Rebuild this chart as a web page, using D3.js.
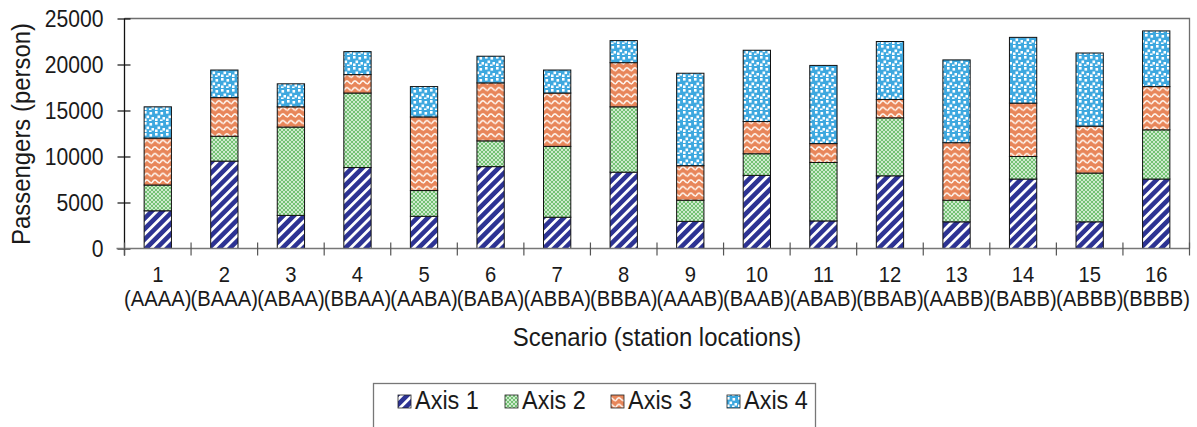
<!DOCTYPE html>
<html>
<head>
<meta charset="utf-8">
<script src="https://cdn.jsdelivr.net/npm/d3@7"></script>
<style>
  html, body { margin: 0; padding: 0; background: #fff; }
  svg { display: block; }
  text { font-family: "Liberation Sans", Arial, sans-serif; fill: #1a1a1a; }
</style>
</head>
<body>
<svg id="chart" width="1197" height="427"></svg>
<script>
// Scenario numbers and their station-location codes
const categories = ["1","2","3","4","5","6","7","8","9","10","11","12","13","14","15","16"];
const scenarioCodes = ["(AAAA)","(BAAA)","(ABAA)","(BBAA)","(AABA)","(BABA)","(ABBA)","(BBBA)",
                       "(AAAB)","(BAAB)","(ABAB)","(BBAB)","(AABB)","(BABB)","(ABBB)","(BBBB)"];
const seriesNames = ["Axis 1", "Axis 2", "Axis 3", "Axis 4"];

// Passengers (person) per axis for each scenario
const axis1 = [4100, 9500, 3600, 8800, 3500, 8900, 3400, 8300, 2950, 7950, 3000, 7900, 2900, 7550, 2900, 7550];
const axis2 = [2800, 2700, 9600, 8100, 2800, 2800, 7700, 7100, 2300, 2350, 6350, 6300, 2350, 2450, 5300, 5350];
const axis3 = [5100, 4200, 2200, 2000, 8000, 6300, 5800, 4800, 3750, 3500, 2050, 2000, 6250, 5800, 5100, 4700];
const axis4 = [3400, 3000, 2500, 2500, 3300, 2900, 2500, 2400, 10050, 7750, 8500, 6300, 9000, 7150, 7950, 6050];

const yTicks = [0, 5000, 10000, 15000, 20000, 25000];

const rows = categories.map((c, i) => ({
  cat: c, code: scenarioCodes[i],
  "Axis 1": axis1[i], "Axis 2": axis2[i], "Axis 3": axis3[i], "Axis 4": axis4[i]
}));

const svg = d3.select("#chart");
const plot = { left: 124.5, right: 1189.5, top: 18.5, bottom: 248.5 };
const SX = 0.92; // narrow text rendering

const x = d3.scaleBand().domain(categories)
  .range([plot.left, plot.right]).paddingInner(0.59).paddingOuter(0.295);
const y = d3.scaleLinear().domain([0, 25000]).range([plot.bottom, plot.top]);

// ---- fill patterns ----
const defs = svg.append("defs");

// Axis 1: navy with white "/" stripes
const p1 = defs.append("pattern").attr("id", "pat1").attr("patternUnits", "userSpaceOnUse")
  .attr("width", 7.4).attr("height", 7.4).attr("patternTransform", "rotate(45)");
p1.append("rect").attr("width", 7.4).attr("height", 7.4).attr("fill", "#2d3393");
p1.append("rect").attr("x", 0).attr("width", 2.8).attr("height", 7.4).attr("fill", "#ffffff");

// Axis 2: green with fine white dot lattice
const p2 = defs.append("pattern").attr("id", "pat2").attr("patternUnits", "userSpaceOnUse")
  .attr("width", 4).attr("height", 4);
p2.append("rect").attr("width", 4).attr("height", 4).attr("fill", "#74c274");
[[0,0],[4,0],[0,4],[4,4],[2,2]].forEach(([cx, cy]) =>
  p2.append("circle").attr("cx", cx).attr("cy", cy).attr("r", 1.05).attr("fill", "#e6f6e6"));

// Axis 3: orange with white waves
const p3 = defs.append("pattern").attr("id", "pat3").attr("patternUnits", "userSpaceOnUse")
  .attr("width", 8).attr("height", 6.6);
p3.append("rect").attr("width", 8).attr("height", 6.6).attr("fill", "#e8865a");
p3.append("path").attr("d", "M0,4.6 Q2,0.8 4,2.2 Q6,4.8 8,4.6")
  .attr("fill", "none").attr("stroke", "#fff6ef").attr("stroke-width", 1.6);

// Axis 4: sky blue with white confetti squares
const p4 = defs.append("pattern").attr("id", "pat4").attr("patternUnits", "userSpaceOnUse")
  .attr("width", 11).attr("height", 11);
p4.append("rect").attr("width", 11).attr("height", 11).attr("fill", "#3ea8df");
[[1,1],[6.5,2],[3.5,5.5],[8.5,7],[1,8.5],[6,9.5]].forEach(([sx, sy]) =>
  p4.append("rect").attr("x", sx).attr("y", sy).attr("width", 2.6).attr("height", 2.6).attr("fill", "#ffffff"));

const fills = { "Axis 1": "url(#pat1)", "Axis 2": "url(#pat2)", "Axis 3": "url(#pat3)", "Axis 4": "url(#pat4)" };

// helper for narrow text
function label(g, txt, tx, ty, size, anchor, rot) {
  return g.append("text")
    .attr("transform", `translate(${tx},${ty})` + (rot ? ` rotate(${rot})` : "") + ` scale(${SX},1)`)
    .attr("text-anchor", anchor).attr("font-size", size).text(txt);
}

// ---- plot frame (top & right) ----
svg.append("path")
  .attr("d", `M${plot.left},${plot.top}H${plot.right}V${plot.bottom}`)
  .attr("fill", "none").attr("stroke", "#6e6e6e").attr("stroke-width", 1.3);

// ---- stacked bars ----
const stack = d3.stack().keys(seriesNames)(rows);
const layers = svg.append("g").selectAll("g").data(stack).join("g")
  .attr("fill", d => fills[d.key]);
layers.selectAll("rect").data(d => d).join("rect")
  .attr("x", d => x(d.data.cat))
  .attr("width", x.bandwidth())
  .attr("y", d => y(d[1]))
  .attr("height", d => y(d[0]) - y(d[1]))
  .attr("stroke", "#111").attr("stroke-width", 1);

// ---- y axis ----
const yAxis = svg.append("g").attr("transform", `translate(${plot.left},0)`)
  .call(d3.axisLeft(y).tickValues(yTicks).tickSize(7).tickFormat(""));
yAxis.select(".domain").attr("stroke", "#111").attr("stroke-width", 1.3)
  .attr("d", `M0,${plot.top}V${plot.bottom + 7}`);
yAxis.selectAll(".tick line").attr("x1", 6).attr("x2", -7).attr("stroke", "#111").attr("stroke-width", 1.2);
yAxis.selectAll(".tick").each(function(d) {
  label(d3.select(this), d3.format("d")(d), -21, 8, 23, "end");
});

// ---- x axis ----
const xAxis = svg.append("g").attr("transform", `translate(0,${plot.bottom})`)
  .call(d3.axisBottom(x).tickSize(0).tickFormat(""));
xAxis.select(".domain").attr("stroke", "#777").attr("stroke-width", 1.6)
  .attr("d", `M${plot.left - 8},0H${plot.right}`);
const boundaries = categories.map(c => x(c) - (x.step() - x.bandwidth()) / 2).concat([plot.right]);
xAxis.append("g").selectAll("line").data(boundaries).join("line")
  .attr("x1", d => d).attr("x2", d => d).attr("y1", -6).attr("y2", 7)
  .attr("stroke", "#555").attr("stroke-width", 1.2);
xAxis.selectAll(".tick").each(function(d, i) {
  const g = d3.select(this);
  label(g, d, 0, 33, 22, "middle");
  label(g, scenarioCodes[i], 0, 57, 22, "middle");
});

// ---- axis titles ----
label(svg, "Scenario (station locations)", (plot.left + plot.right) / 2, 346, 26, "middle");
label(svg, "Passengers (person)", 30, 134, 26, "middle", -90);

// ---- legend ----
const lg = svg.append("g");
lg.append("rect").attr("x", 373.5).attr("y", 383.5).attr("width", 442).attr("height", 60)
  .attr("fill", "#fff").attr("stroke", "#777").attr("stroke-width", 1.3);
const legendX = [398, 505, 611, 727];
seriesNames.forEach((name, i) => {
  lg.append("rect").attr("x", legendX[i]).attr("y", 395).attr("width", 13).attr("height", 13)
    .attr("fill", fills[name]).attr("stroke", "#222").attr("stroke-width", 0.8);
  label(lg, name, legendX[i] + 17, 409, 25.5, "start");
});
</script>
</body>
</html>
